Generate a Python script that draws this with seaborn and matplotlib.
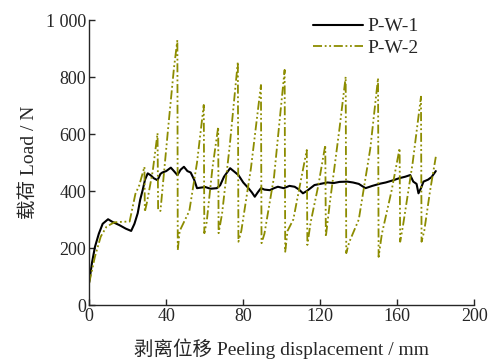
import matplotlib
matplotlib.use("Agg")
import matplotlib.pyplot as plt
import seaborn as sns
import pandas as pd

# P-W-1 (solid black)
x1 = [0, 1.5, 3, 5, 7, 9.8, 12, 15.8, 19, 21.8,
      23.5, 25.2, 26.5, 27.8, 29, 30.4, 32, 33.5, 35.5, 37,
      38, 40, 42.4, 44, 45.8, 47.5, 49.2, 51, 52.7, 54.5,
      56, 58, 60.3, 63, 66.3, 68, 70, 73.2, 75, 77.5,
      80, 82.7, 84.5, 86, 87.5, 89.2, 91, 93.8, 96, 98,
      101, 104, 106.7, 109, 111, 113, 117, 120, 123.8, 127,
      130, 134, 137, 140, 143.5, 147, 151.2, 154, 158, 161,
      164, 166.7, 168.3, 170, 171, 172.3, 173.6, 176, 177.8, 180]
y1 = [80, 150, 204, 250, 285, 301, 292, 280, 268, 260,
      285, 322, 370, 404, 440, 462, 455, 445, 438, 460,
      465, 470, 482, 470, 456, 475, 485, 470, 465, 440,
      410, 412, 414, 408, 410, 420, 450, 480, 470, 456,
      430, 410, 395, 380, 395, 410, 405, 403, 410, 415,
      410, 418, 415, 405, 392, 400, 421, 425, 430, 428,
      432, 433, 430, 425, 410, 418, 426, 430, 438, 445,
      450, 456, 433, 425, 392, 410, 433, 440, 449, 470]

# P-W-2 (olive dash-dot)
x2 = [0, 3, 6, 9, 13, 17, 21, 24, 26, 28.7,
      28.9, 30, 33, 35.5, 35.8, 37, 41, 44, 45.8, 46.0,
      47, 52, 56, 59.5, 59.8, 61, 64, 67, 67.2, 69,
      73, 77.2, 77.5, 79, 84, 89.2, 89.5, 91, 96, 101.5,
      101.8, 103, 106, 110, 113, 113.3, 115, 119, 122.6, 122.9,
      125, 130, 133.2, 133.5, 135, 140, 146, 150, 150.3, 152,
      157, 161.2, 161.5, 163, 168, 172.3, 172.6, 174, 177, 180]
y2 = [77, 170, 240, 275, 290, 292, 293, 390, 420, 485,
      327, 360, 470, 603, 333, 330, 620, 830, 930, 193,
      260, 330, 500, 702, 252, 290, 480, 625, 252, 320,
      560, 853, 222, 260, 480, 772, 217, 250, 450, 825,
      187, 260, 300, 440, 544, 211, 290, 420, 561, 240,
      360, 620, 801, 182, 220, 300, 550, 796, 169, 250,
      400, 550, 222, 280, 500, 731, 222, 260, 400, 520]

series_names = ["P-W-1", "P-W-2"]
xticks = [0, 40, 80, 120, 160, 200]
yticks = [0, 200, 400, 600, 800, 1000]
ytick_labels = ["0", "200", "400", "600", "800", "1 000"]

sns.set_style("ticks")
plt.rcParams["font.family"] = ["Liberation Serif", "Noto Sans CJK SC"]
plt.rcParams["mathtext.fontset"] = "stix"

fig = plt.figure(figsize=(4.90, 3.64), dpi=100)
ax = fig.add_axes([0.182, 0.162, 0.786, 0.783])

df1 = pd.DataFrame({"x": x1, "y": y1})
df2 = pd.DataFrame({"x": x2, "y": y2})
sns.lineplot(data=df1, x="x", y="y", ax=ax, sort=False, estimator=None,
             color="black", linewidth=1.5, label=series_names[0])
sns.lineplot(data=df2, x="x", y="y", ax=ax, sort=False, estimator=None,
             color="#8c8c00", linewidth=1.3, label=series_names[1],
             dashes=False)
ax.lines[1].set_dashes([5, 1.5, 1, 1.5, 1, 1.5])

ax.set_xlim(0, 200)
ax.set_ylim(0, 1000)
ax.set_xticks(xticks)
ax.set_yticks(yticks)
ax.set_yticklabels(ytick_labels)
ax.tick_params(direction="in", length=4, width=1, labelsize=13, pad=2)
for s in ["top", "right"]:
    ax.spines[s].set_visible(False)
for s in ["left", "bottom"]:
    ax.spines[s].set_linewidth(1.0)

ax.set_xlabel("剥离位移 Peeling displacement / mm", fontsize=14, labelpad=10)
ax.set_ylabel("载荷 Load / N", fontsize=14, labelpad=6)

leg = ax.legend(loc="upper left", bbox_to_anchor=(0.56, 1.035), frameon=False,
                fontsize=14, handlelength=2.6, handletextpad=0.2,
                labelspacing=0.2, borderaxespad=0)

fig.savefig("out.png", dpi=100)
